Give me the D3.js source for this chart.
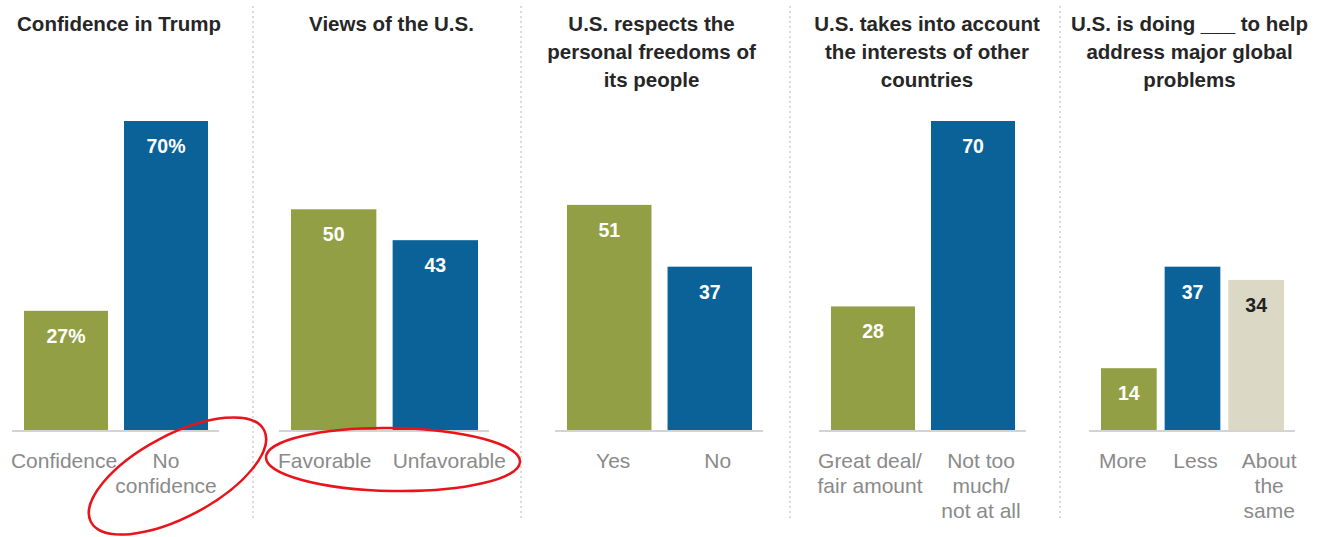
<!DOCTYPE html>
<html><head><meta charset="utf-8">
<script src="https://cdn.jsdelivr.net/npm/d3@7"></script>
<style>
html,body{margin:0;padding:0;background:#fff;}
svg{display:block;}
</style></head>
<body>
<script>
// ---- data ----
const panelTitles = [
  ["Confidence in Trump"],
  ["Views of the U.S."],
  ["U.S. respects the", "personal freedoms of", "its people"],
  ["U.S. takes into account", "the interests of other", "countries"],
  ["U.S. is doing ___ to help", "address major global", "problems"]
];
const panelCategories = [
  [["Confidence"], ["No", "confidence"]],
  [["Favorable"], ["Unfavorable"]],
  [["Yes"], ["No"]],
  [["Great deal/", "fair amount"], ["Not too", "much/", "not at all"]],
  [["More"], ["Less"], ["About", "the", "same"]]
];
const panelValues = [
  [27, 70],
  [50, 43],
  [51, 37],
  [28, 70],
  [14, 37, 34]
];
const panelSuffix = ["%", "", "", "", ""];
const seriesColors = ["#939f45", "#0a6298", "#dbd8c6"];
const labelColors = ["#ffffff", "#ffffff", "#222222"];

// ---- layout ----
const W = 1318, H = 537;
const baseY = 430, topY = 121;
const panelRanges = [[24, 208], [291, 478], [567, 752], [831, 1015], [1101, 1284]];
const titleShift = [3, 7, -8, 4, -3];
const labelShift = [[-2, 0], [-9, 14], [4, 8], [-3, 8], [-6, 3, 13]];
const dividers = [253, 521, 790, 1060];

const svg = d3.select("body").append("svg").attr("width", W).attr("height", H);

const y = d3.scaleLinear().domain([0, 70]).range([baseY, topY]);

// dividers
svg.selectAll("line.div").data(dividers).join("line")
  .attr("x1", d => d).attr("x2", d => d).attr("y1", 6).attr("y2", 520)
  .attr("stroke", "#b5b5b5").attr("stroke-width", 1).attr("stroke-dasharray", "2,3");

const font = "'Liberation Sans', Arial, sans-serif";

panelValues.forEach((vals, p) => {
  const r = panelRanges[p];
  const n = vals.length;
  const x = d3.scaleBand().domain(d3.range(n)).range(r)
    .paddingInner(n === 3 ? 0.125 : 0.16).paddingOuter(0);
  const g = svg.append("g");
  const cx = (r[0] + r[1]) / 2 + titleShift[p];

  // title
  const t = g.append("text").attr("text-anchor", "middle")
    .attr("font-family", font).attr("font-weight", "bold")
    .attr("font-size", 20.5).attr("fill", "#262626");
  panelTitles[p].forEach((line, i) => {
    t.append("tspan").attr("x", cx).attr("y", 31 + i * 28).text(line);
  });

  // baseline
  g.append("line").attr("x1", r[0] - 12).attr("x2", r[1] + 11)
    .attr("y1", baseY + 1).attr("y2", baseY + 1)
    .attr("stroke", "#d3d3d3").attr("stroke-width", 2);

  // bars
  g.selectAll("rect").data(vals).join("rect")
    .attr("x", (d, i) => x(i)).attr("width", x.bandwidth())
    .attr("y", d => y(d)).attr("height", d => baseY - y(d))
    .attr("fill", (d, i) => seriesColors[i]);

  // value labels
  g.selectAll("text.val").data(vals).join("text").attr("class", "val")
    .attr("x", (d, i) => x(i) + x.bandwidth() / 2)
    .attr("y", d => y(d) + 32)
    .attr("text-anchor", "middle")
    .attr("font-family", font).attr("font-weight", "bold").attr("font-size", 19.5)
    .attr("fill", (d, i) => labelColors[i])
    .text(d => d + panelSuffix[p]);

  // category labels
  panelCategories[p].forEach((lines, i) => {
    const lx = x(i) + x.bandwidth() / 2 + labelShift[p][i];
    const ct = g.append("text").attr("text-anchor", "middle")
      .attr("font-family", font)
      .attr("font-size", 21).attr("fill", "#8a8a8a");
    lines.forEach((line, k) => {
      ct.append("tspan").attr("x", lx).attr("y", 468 + k * 25).text(line);
    });
  });
});

// red annotation ellipses
svg.append("ellipse").attr("cx", 0).attr("cy", 0).attr("rx", 98).attr("ry", 41)
  .attr("transform", "translate(177.5,476) rotate(-28)")
  .attr("fill", "none").attr("stroke", "#e8141b").attr("stroke-width", 2.5);
svg.append("ellipse").attr("cx", 0).attr("cy", 0).attr("rx", 127).attr("ry", 31.5)
  .attr("transform", "translate(393,459.5) rotate(1)")
  .attr("fill", "none").attr("stroke", "#e8141b").attr("stroke-width", 2.5);
</script>
</body></html>
